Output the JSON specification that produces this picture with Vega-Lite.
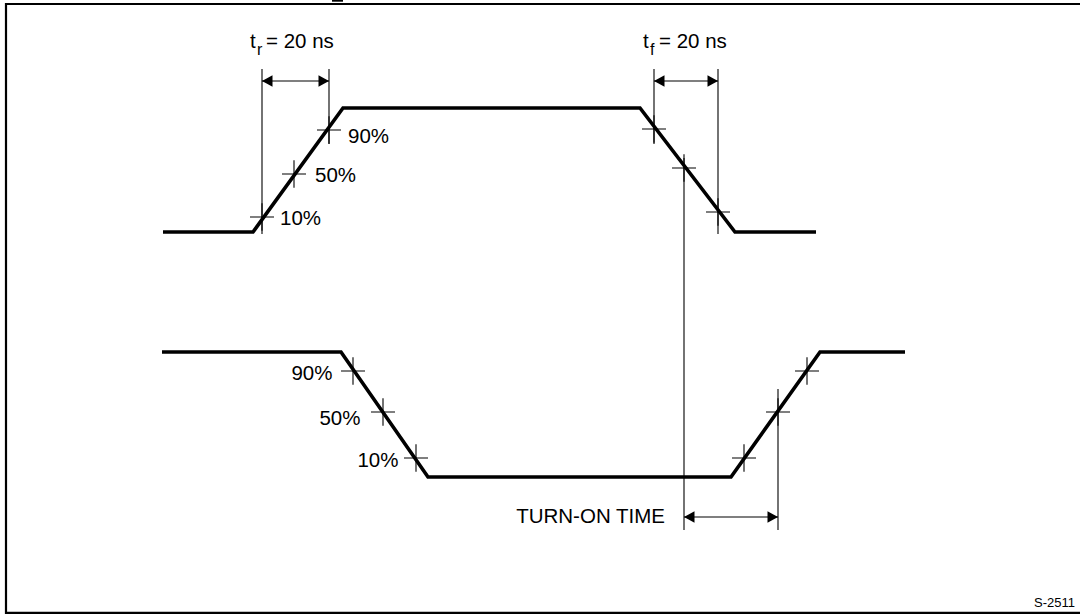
{
  "$schema": "https://vega.github.io/schema/vega-lite/v6.json",
  "width": 1080,
  "height": 614,
  "padding": 0,
  "autosize": {"type": "none"},
  "background": "white",
  "config": {"view": {"stroke": null}, "text": {"font": "Liberation Sans", "color": "black"}},
  "datasets": {
    "waves": [
      {"id": "top", "ord": 1, "x": 163, "y": 232},
      {"id": "top", "ord": 2, "x": 253, "y": 232},
      {"id": "top", "ord": 3, "x": 343, "y": 108},
      {"id": "top", "ord": 4, "x": 640, "y": 108},
      {"id": "top", "ord": 5, "x": 735, "y": 232},
      {"id": "top", "ord": 6, "x": 816, "y": 232},
      {"id": "bottom", "ord": 1, "x": 162, "y": 352},
      {"id": "bottom", "ord": 2, "x": 341, "y": 352},
      {"id": "bottom", "ord": 3, "x": 428, "y": 477},
      {"id": "bottom", "ord": 4, "x": 731, "y": 477},
      {"id": "bottom", "ord": 5, "x": 820, "y": 352},
      {"id": "bottom", "ord": 6, "x": 905, "y": 352}
    ],
    "segments": [
      {"kind": "guide", "x1": 262, "y1": 69, "x2": 262, "y2": 234},
      {"kind": "guide", "x1": 329, "y1": 69, "x2": 329, "y2": 144},
      {"kind": "guide", "x1": 654, "y1": 69, "x2": 654, "y2": 144},
      {"kind": "guide", "x1": 718, "y1": 69, "x2": 718, "y2": 234},
      {"kind": "guide", "x1": 684, "y1": 158, "x2": 684, "y2": 530},
      {"kind": "guide", "x1": 778, "y1": 389, "x2": 778, "y2": 530},
      {"kind": "guide", "x1": 262, "y1": 81, "x2": 329, "y2": 81},
      {"kind": "guide", "x1": 654, "y1": 81, "x2": 718, "y2": 81},
      {"kind": "guide", "x1": 684, "y1": 517, "x2": 778, "y2": 517},
      {"kind": "frame", "x1": 6, "y1": 4, "x2": 1080, "y2": 4},
      {"kind": "frame", "x1": 6, "y1": 3, "x2": 6, "y2": 614},
      {"kind": "frame", "x1": 5, "y1": 612.8, "x2": 1080, "y2": 612.8},
      {"kind": "frame", "x1": 332, "y1": 0.6, "x2": 343, "y2": 0.6}
    ],
    "heads": [
      {"dir": "left", "x": 262, "y": 81},
      {"dir": "right", "x": 329, "y": 81},
      {"dir": "left", "x": 654, "y": 81},
      {"dir": "right", "x": 718, "y": 81},
      {"dir": "left", "x": 684, "y": 517},
      {"dir": "right", "x": 778, "y": 517}
    ],
    "crosses": [
      {"x": 262, "y": 217}, {"x": 294, "y": 174}, {"x": 329, "y": 130},
      {"x": 654, "y": 129}, {"x": 684, "y": 168}, {"x": 718, "y": 212},
      {"x": 353, "y": 371}, {"x": 383, "y": 412}, {"x": 416, "y": 458},
      {"x": 744, "y": 458}, {"x": 778, "y": 412}, {"x": 807, "y": 371}
    ],
    "labels": [
      {"role": "left", "text": "90%", "x": 348, "y": 143},
      {"role": "left", "text": "50%", "x": 315, "y": 182},
      {"role": "left", "text": "10%", "x": 280, "y": 225},
      {"role": "left", "text": "t", "x": 250, "y": 48},
      {"role": "left", "text": "= 20 ns", "x": 266, "y": 48},
      {"role": "left", "text": "t", "x": 643, "y": 48},
      {"role": "left", "text": "= 20 ns", "x": 659, "y": 48},
      {"role": "sub", "text": "r", "x": 257, "y": 55},
      {"role": "sub", "text": "f", "x": 650, "y": 55},
      {"role": "right", "text": "90%", "x": 332.5, "y": 380},
      {"role": "right", "text": "50%", "x": 360.5, "y": 425},
      {"role": "right", "text": "10%", "x": 398.5, "y": 467},
      {"role": "right", "text": "TURN-ON TIME", "x": 665, "y": 523},
      {"role": "code", "text": "S-2511", "x": 1075, "y": 607}
    ]
  },
  "encoding": {
    "x": {"type": "quantitative", "scale": {"domain": [0, 1080], "nice": false, "zero": false}, "axis": null},
    "y": {"type": "quantitative", "scale": {"domain": [0, 614], "nice": false, "zero": false, "reverse": true}, "axis": null}
  },
  "layer": [
    {
      "data": {"name": "segments"},
      "transform": [{"filter": "datum.kind === 'guide'"}],
      "mark": {"type": "rule", "color": "black", "strokeWidth": 1.1},
      "encoding": {
        "x": {"field": "x1", "type": "quantitative"},
        "x2": {"field": "x2"},
        "y": {"field": "y1", "type": "quantitative"},
        "y2": {"field": "y2"}
      }
    },
    {
      "data": {"name": "segments"},
      "transform": [{"filter": "datum.kind === 'frame'"}],
      "mark": {"type": "rule", "color": "black", "strokeWidth": 2.2},
      "encoding": {
        "x": {"field": "x1", "type": "quantitative"},
        "x2": {"field": "x2"},
        "y": {"field": "y1", "type": "quantitative"},
        "y2": {"field": "y2"}
      }
    },
    {
      "data": {"name": "waves"},
      "mark": {"type": "line", "color": "black", "strokeWidth": 3.6, "strokeJoin": "miter", "strokeCap": "butt"},
      "encoding": {
        "x": {"field": "x", "type": "quantitative"},
        "y": {"field": "y", "type": "quantitative"},
        "detail": {"field": "id"},
        "order": {"field": "ord", "type": "quantitative"}
      }
    },
    {
      "data": {"name": "crosses"},
      "mark": {"type": "point", "shape": "M-1,0L1,0M0,-1.15L0,1.15", "size": 576, "filled": false, "color": "black", "strokeWidth": 1.1, "opacity": 1},
      "encoding": {
        "x": {"field": "x", "type": "quantitative"},
        "y": {"field": "y", "type": "quantitative"}
      }
    },
    {
      "data": {"name": "heads"},
      "transform": [{"filter": "datum.dir === 'left'"}],
      "mark": {"type": "point", "shape": "M0,0L2,-1.1L2,1.1Z", "size": 110, "filled": true, "color": "black", "opacity": 1, "strokeWidth": 0},
      "encoding": {
        "x": {"field": "x", "type": "quantitative"},
        "y": {"field": "y", "type": "quantitative"}
      }
    },
    {
      "data": {"name": "heads"},
      "transform": [{"filter": "datum.dir === 'right'"}],
      "mark": {"type": "point", "shape": "M0,0L-2,-1.1L-2,1.1Z", "size": 110, "filled": true, "color": "black", "opacity": 1, "strokeWidth": 0},
      "encoding": {
        "x": {"field": "x", "type": "quantitative"},
        "y": {"field": "y", "type": "quantitative"}
      }
    },
    {
      "data": {"name": "labels"},
      "transform": [{"filter": "datum.role === 'left'"}],
      "mark": {"type": "text", "align": "left", "baseline": "alphabetic", "fontSize": 20.5, "font": "Liberation Sans", "color": "black"},
      "encoding": {
        "x": {"field": "x", "type": "quantitative"},
        "y": {"field": "y", "type": "quantitative"},
        "text": {"field": "text"}
      }
    },
    {
      "data": {"name": "labels"},
      "transform": [{"filter": "datum.role === 'sub'"}],
      "mark": {"type": "text", "align": "left", "baseline": "alphabetic", "fontSize": 16, "font": "Liberation Sans", "color": "black"},
      "encoding": {
        "x": {"field": "x", "type": "quantitative"},
        "y": {"field": "y", "type": "quantitative"},
        "text": {"field": "text"}
      }
    },
    {
      "data": {"name": "labels"},
      "transform": [{"filter": "datum.role === 'right'"}],
      "mark": {"type": "text", "align": "right", "baseline": "alphabetic", "fontSize": 20.5, "font": "Liberation Sans", "color": "black"},
      "encoding": {
        "x": {"field": "x", "type": "quantitative"},
        "y": {"field": "y", "type": "quantitative"},
        "text": {"field": "text"}
      }
    },
    {
      "data": {"name": "labels"},
      "transform": [{"filter": "datum.role === 'code'"}],
      "mark": {"type": "text", "align": "right", "baseline": "alphabetic", "fontSize": 13, "font": "Liberation Sans", "color": "black"},
      "encoding": {
        "x": {"field": "x", "type": "quantitative"},
        "y": {"field": "y", "type": "quantitative"},
        "text": {"field": "text"}
      }
    }
  ]
}
